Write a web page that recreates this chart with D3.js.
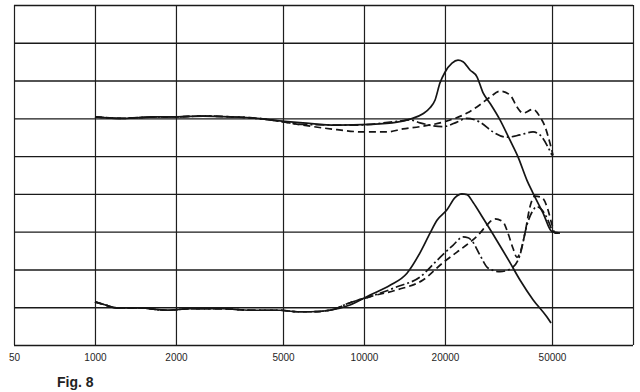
<!DOCTYPE html>
<html>
<head>
<meta charset="utf-8">
<script src="https://cdn.jsdelivr.net/npm/d3@7"></script>
<style>
  body { margin: 0; background: #fff; }
  svg { display: block; }
</style>
</head>
<body>
<div id="fig"></div>
<script>
// frequency axis (log), the first tick is printed as "50" in the original
const freqTicks = [500, 1000, 2000, 5000, 10000, 20000, 50000, 100000];
const freqLabels = ["50", "1000", "2000", "5000", "10000", "20000", "50000", ""];
const levelTicks = [0, 5, 10, 15, 20, 25, 30, 35, 40, 45];

// upper set of curves [Hz, dB]
const upperSolid = [
  [1000, 30.2], [1270, 30.0], [1700, 30.2], [2000, 30.2], [2520, 30.3], [3180, 30.2],
  [4000, 30.0], [4470, 29.8], [5930, 29.4], [7940, 29.1], [10530, 29.2], [13270, 29.5],
  [14830, 29.9], [16570, 30.6], [17600, 31.4], [18360, 32.4], [19170, 34.7], [20000, 36.1],
  [21240, 37.3], [22360, 37.7], [23340, 37.5], [24780, 36.4], [26300, 35.5], [27690, 33.4],
  [29400, 32.0], [32030, 29.8], [34900, 27.1], [37370, 24.9], [40350, 21.8], [42490, 20.1],
  [46270, 17.5], [50000, 15.0], [53530, 14.8],
];
const upperDashed = [
  [1000, 30.2], [1270, 30.0], [1700, 30.2], [2000, 30.2], [2520, 30.3], [3180, 30.2],
  [4000, 30.0], [4470, 29.8], [5930, 29.1], [7940, 28.5], [9920, 28.2], [12180, 28.2],
  [13970, 28.6], [16150, 28.9], [19670, 29.5], [24150, 30.7], [26980, 31.8], [29400, 32.8],
  [32030, 33.6], [34900, 33.1], [37050, 31.5], [39000, 30.7], [42490, 31.2], [45110, 30.2],
  [47090, 28.9], [49140, 26.7], [50430, 25.1],
];
const upperDashDot = [
  [1000, 30.2], [1270, 30.0], [1700, 30.2], [2000, 30.2], [2520, 30.3], [3180, 30.2],
  [4000, 30.0], [4470, 29.8], [5930, 29.2], [9100, 29.1], [13270, 29.6], [14830, 29.8],
  [16150, 29.4], [19670, 28.9], [22160, 29.5], [24150, 30.0], [26980, 29.5], [30170, 28.2],
  [34010, 27.5], [38010, 27.8], [42490, 28.2], [45110, 27.8], [48290, 26.2], [50000, 25.1],
];

// lower set of curves [Hz, dB]
const lowerSolid = [
  [1000, 5.7], [1070, 5.4], [1210, 4.9], [1470, 4.9], [1850, 4.6], [2260, 4.8],
  [2990, 4.8], [3770, 4.6], [4870, 4.6], [5640, 4.4], [6300, 4.4], [7470, 4.6],
  [8870, 5.3], [10530, 6.6], [12500, 7.9], [14450, 9.5], [16150, 12.2], [17600, 14.8],
  [18680, 16.5], [20350, 17.9], [21790, 19.5], [23130, 20.0], [24150, 19.9], [25420, 18.9],
  [27690, 16.8], [31210, 13.8], [34900, 10.9], [38010, 8.6], [42490, 6.0], [47890, 3.7],
  [49570, 2.9],
];
const lowerDashed = [
  [1000, 5.7], [1070, 5.4], [1210, 4.9], [1470, 4.9], [1850, 4.6], [2260, 4.8],
  [2990, 4.8], [3770, 4.6], [4870, 4.6], [5640, 4.4], [6300, 4.4], [7470, 4.6],
  [8870, 5.6], [10530, 6.4], [13270, 7.3], [16570, 8.6], [19670, 10.9], [22160, 12.3],
  [24780, 13.6], [26980, 14.8], [28650, 15.9], [30690, 16.7], [32860, 16.3], [34300, 14.8],
  [35800, 12.8], [37050, 11.6], [38010, 12.2], [39670, 14.8], [41400, 18.3], [43230, 19.7],
  [45880, 19.5], [48290, 17.9], [50000, 15.9], [51300, 14.8], [53530, 14.8],
];
const lowerDashDot = [
  [1000, 5.7], [1070, 5.4], [1210, 4.9], [1470, 4.9], [1850, 4.6], [2260, 4.8],
  [2990, 4.8], [3770, 4.6], [4870, 4.6], [5640, 4.4], [6300, 4.4], [7470, 4.6],
  [8870, 5.6], [10530, 6.4], [13270, 7.7], [16150, 9.0], [18680, 11.2], [21420, 13.2],
  [23340, 14.3], [24360, 14.2], [25420, 13.6], [26980, 11.9], [28890, 10.2], [32030, 9.7],
  [35500, 10.2], [38010, 11.9], [40350, 15.9], [42140, 17.6], [43970, 18.3], [47890, 16.8],
  [50430, 14.8],
];

const margin = { top: 5, right: 7, bottom: 47, left: 14 },
  width = 640 - margin.left - margin.right,
  height = 392 - margin.top - margin.bottom;

const root = d3
  .select("#fig")
  .append("svg")
  .attr("width", 640)
  .attr("height", 392);

const svg = root
  .append("g")
  .attr("transform", `translate(${margin.left}, ${margin.top})`);

const x = d3.scaleLog().domain([500, 100000]).range([0, width]);
const y = d3.scaleLinear().domain([0, 45]).range([height, 0]);

// vertical grid + labels
const xAxis = svg
  .append("g")
  .attr("transform", `translate(0, ${height})`)
  .call(
    d3
      .axisBottom(x)
      .tickValues(freqTicks)
      .tickSize(-height)
      .tickPadding(9)
      .tickFormat((d, i) => freqLabels[i])
  );
xAxis.select(".domain").remove();
xAxis.selectAll("line").attr("stroke", "#1e1e1e").attr("stroke-width", 1.2);
xAxis
  .selectAll("text")
  .style("font-family", "'Liberation Sans', Arial, sans-serif")
  .style("font-size", "10px")
  .attr("fill", "#262626");

// horizontal grid
const yAxis = svg
  .append("g")
  .call(d3.axisLeft(y).tickValues(levelTicks).tickSize(-width).tickFormat(""));
yAxis.select(".domain").remove();
yAxis.selectAll("line").attr("stroke", "#1a1a1a").attr("stroke-width", 1.4);

// curves
const line = d3
  .line()
  .x((d) => x(d[0]))
  .y((d) => y(d[1]))
  .curve(d3.curveMonotoneX);

const curves = [
  { data: upperSolid, dash: null },
  { data: upperDashed, dash: "7,4" },
  { data: upperDashDot, dash: "9,3,2,3" },
  { data: lowerSolid, dash: null },
  { data: lowerDashed, dash: "7,4" },
  { data: lowerDashDot, dash: "9,3,2,3" },
];

svg
  .selectAll(".curve")
  .data(curves)
  .join("path")
  .attr("class", "curve")
  .attr("d", (d) => line(d.data))
  .attr("fill", "none")
  .attr("stroke", "#151515")
  .attr("stroke-width", 1.7)
  .attr("stroke-linejoin", "round")
  .attr("stroke-dasharray", (d) => d.dash);

// caption
root
  .append("text")
  .attr("x", 57)
  .attr("y", 387)
  .style("font-family", "'Liberation Sans Narrow', 'Liberation Sans', Arial, sans-serif")
  .style("font-size", "14px")
  .style("font-weight", "bold")
  .attr("fill", "#222")
  .text("Fig. 8");
</script>
</body>
</html>
